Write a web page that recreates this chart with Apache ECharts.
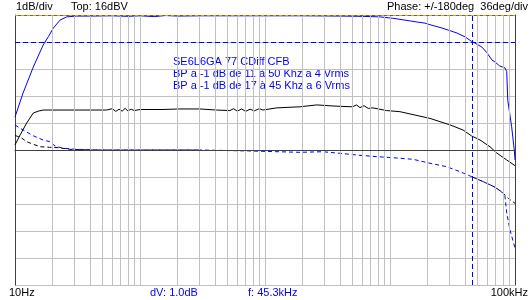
<!DOCTYPE html>
<html>
<head>
<meta charset="utf-8">
<script src="https://cdn.jsdelivr.net/npm/echarts@6/dist/echarts.min.js"></script>
<style>
html,body{margin:0;padding:0;background:#fff;}
#chart{width:530px;height:300px;}
</style>
</head>
<body>
<div id="chart"></div>
<script>
// ---- data ----
// Blue solid: magnitude (dBV)
const blueMagFreq = [10, 11.6, 14, 16.8, 18.5, 20.3, 22.9, 25.9, 31, 40, 60, 80, 100, 130, 160, 200, 300, 500, 1000, 2000, 4000, 6000, 8300, 10500, 13200, 16500, 19000, 20900, 26000, 34400, 39800, 45000, 47900, 54400, 59700, 65500, 69200, 75000, 80000, 83200, 85900, 87500, 94000, 98700, 100000];
const blueMagDb   = [12.22, 13.11, 14.07, 14.89, 15.2, 15.52, 15.81, 15.93, 15.96, 15.96, 15.97, 15.95, 15.97, 15.94, 15.98, 15.96, 15.97, 15.97, 15.97, 15.97, 15.96, 15.95, 15.93, 15.88, 15.81, 15.74, 15.70, 15.64, 15.52, 15.33, 15.19, 15.02, 14.96, 14.81, 14.6, 14.33, 14.26, 14.12, 14.07, 14.04, 13.9, 12.85, 11.86, 11.0, 10.63];

// Black solid: magnitude (dBV)
const blackMagFreq = [10, 11, 12.4, 14, 15.4, 16.8, 20, 30, 54, 60, 64, 68, 72, 76, 80, 85, 90, 100, 150, 209, 301, 410, 524, 560, 600, 650, 700, 760, 820, 900, 963, 1240, 1900, 2600, 3500, 5000, 5400, 5750, 6200, 6700, 7300, 9400, 12000, 20900, 30200, 38400, 45000, 52500, 63100, 71400, 85900, 100000];
const blackMagDb   = [11.19, 11.56, 12.0, 12.37, 12.44, 12.48, 12.48, 12.48, 12.48, 12.53, 12.43, 12.51, 12.44, 12.54, 12.45, 12.51, 12.46, 12.5, 12.5, 12.52, 12.52, 12.48, 12.46, 12.53, 12.44, 12.52, 12.43, 12.51, 12.45, 12.53, 12.48, 12.56, 12.6, 12.67, 12.63, 12.6, 12.67, 12.57, 12.64, 12.54, 12.56, 12.46, 12.42, 12.17, 11.93, 11.74, 11.52, 11.37, 11.12, 10.89, 10.63, 10.42];

// Blue dashed: phase (deg)
const bluePhFreq = [10, 11.6, 14, 16.8, 19, 20.9, 24.2, 31.1, 47.9, 100, 301, 757, 1905, 2900, 3981, 5754, 7870, 10600, 15310, 20900, 28440, 36300, 45050, 55850, 67900, 78000, 83200, 85900, 91200, 100000];
const bluePhDeg  = [33.3, 26.7, 19.0, 13.3, 11.1, 5.3, 2.3, 0.9, 0, 0, 0, -1.3, -3.1, -2.3, -4.4, -7.1, -8.9, -10.3, -12.4, -17.7, -22.3, -28.9, -35.6, -42.3, -48.9, -55.6, -62.3, -84, -106.7, -130.7];

// Black dashed: phase (deg); null = hidden under the blue phase trace
const blackPhFreq = [10, 11.1, 12.4, 14, 15.9, 18.9, 22.4, 27.4, 40, 100, 301, 1000, 45050, 55850, 67900, 78000, 80600, 88300, 100000];
const blackPhDeg  = [19.3, 16.9, 11.1, 7.6, 4.4, 3.6, 3.1, 0.9, 0, 0, 0, null, -35.6, -42.3, -48.9, -55.6, -56.9, -64.4, -71.1];

// axes / cursor values
const xTickLabels = ['10Hz', '100kHz'];
const topTexts = ['1dB/div', 'Top: 16dBV', 'Phase: +/-180deg  36deg/div'];
const cursorTexts = ['dV: 1.0dB', 'f: 45.3kHz'];
const noteLines = ['SE6L6GA 77 CDiff CFB', 'BP a -1 dB de 11 à 50 Khz a 4 Vrms', 'BP a -1 dB de 17 à 45 Khz a 6 Vrms'];
const gridDecades = [10, 100, 1000, 10000];
const gridMults = [1, 2, 3, 4, 5, 6, 7, 8, 9];
const cursorFreq = 45300;
const cursorDb = 15;
const topDb = 16;
const centerDb = 11;

// ---- build ----
function pairs(xs, ys) { return xs.map((x, i) => [x, ys[i] === null ? '-' : ys[i]]); }
const gridFreqs = [];
gridDecades.forEach(d => gridMults.forEach(m => { const f = d * m; if (f > 10) gridFreqs.push(f); }));

const FONT = '"Liberation Sans", Arial, sans-serif';
const BLUE = '#0000ff';
const txt = (x, y, s, color, align) => ({
  type: 'text', left: align === 'right' ? null : x, right: align === 'right' ? x : null, top: y - 7,
  style: { text: s, fill: color, font: '11px ' + FONT }
});

const chart = echarts.init(document.getElementById('chart'), null, { renderer: 'canvas' });
chart.setOption({
  animation: false,
  backgroundColor: '#ffffff',
  grid: { left: 15, right: 15, top: 15, bottom: 15, containLabel: false },
  xAxis: {
    type: 'log', logBase: 10, min: 10, max: 100000,
    axisLine: { show: true, lineStyle: { color: '#404040', width: 1 } },
    axisTick: { show: false }, axisLabel: { show: false }, splitLine: { show: false }
  },
  yAxis: [
    {
      type: 'value', min: 6, max: 16, interval: 1,
      axisLine: { show: true, lineStyle: { color: '#404040', width: 1 } },
      axisTick: { show: false }, axisLabel: { show: false },
      splitLine: { show: true, lineStyle: { color: '#c0c0c0', width: 1 } }
    },
    {
      type: 'value', min: -180, max: 180, interval: 36, position: 'right',
      axisLine: { show: true, lineStyle: { color: '#404040', width: 1 } },
      axisTick: { show: false }, axisLabel: { show: false }, splitLine: { show: false }
    }
  ],
  series: [
    {
      type: 'line', name: 'grid', z: 1, data: [[10, 6]], showSymbol: false, symbol: 'none',
      lineStyle: { opacity: 0 }, silent: true,
      markLine: {
        silent: true, symbol: ['none', 'none'], label: { show: false }, animation: false,
        lineStyle: { color: '#c0c0c0', type: 'solid', width: 1 },
        data: gridFreqs.map(f => ({ xAxis: f }))
      }
    },
    {
      type: 'line', name: 'refs', z: 1.5, data: [[10, 6]], showSymbol: false, symbol: 'none',
      lineStyle: { opacity: 0 }, silent: true,
      markLine: {
        silent: true, symbol: ['none', 'none'], label: { show: false }, animation: false,
        data: [
          { yAxis: centerDb, lineStyle: { color: '#404040', type: 'solid', width: 1 } },
          { yAxis: topDb, lineStyle: { color: '#606060', type: 'solid', width: 1 } },
          { yAxis: topDb, lineStyle: { color: '#c8b400', type: [3, 3], width: 1 } },
          { yAxis: cursorDb, lineStyle: { color: BLUE, type: [5, 3], width: 1 } },
          { xAxis: cursorFreq, lineStyle: { color: BLUE, type: [5, 3], width: 1 } }
        ]
      }
    },
    {
      type: 'line', name: 'mag2', z: 3, yAxisIndex: 0, data: pairs(blackMagFreq, blackMagDb),
      showSymbol: false, symbol: 'none', lineStyle: { color: '#000000', width: 1 }
    },
    {
      type: 'line', name: 'ph2', z: 3, yAxisIndex: 1, data: pairs(blackPhFreq, blackPhDeg),
      showSymbol: false, symbol: 'none', connectNulls: false,
      lineStyle: { color: '#000000', width: 1, type: [4, 3] }
    },
    {
      type: 'line', name: 'ph1', z: 4, yAxisIndex: 1, data: pairs(bluePhFreq, bluePhDeg),
      showSymbol: false, symbol: 'none', lineStyle: { color: BLUE, width: 1, type: [4, 3] }
    },
    {
      type: 'line', name: 'mag1', z: 4, yAxisIndex: 0, data: pairs(blueMagFreq, blueMagDb),
      showSymbol: false, symbol: 'none', lineStyle: { color: BLUE, width: 1 }
    }
  ],
  graphic: [
    txt(16, 8, topTexts[0], '#000'),
    txt(71, 8, topTexts[1], '#000'),
    txt(2, 8, topTexts[2], '#000', 'right'),
    txt(9, 294, xTickLabels[0], '#000'),
    txt(2, 294, xTickLabels[1], '#000', 'right'),
    txt(150, 294, cursorTexts[0], BLUE),
    txt(248, 294, cursorTexts[1], BLUE),
    txt(173, 63, noteLines[0], BLUE),
    txt(173, 75, noteLines[1], BLUE),
    txt(173, 87, noteLines[2], BLUE)
  ]
});
</script>
</body>
</html>
